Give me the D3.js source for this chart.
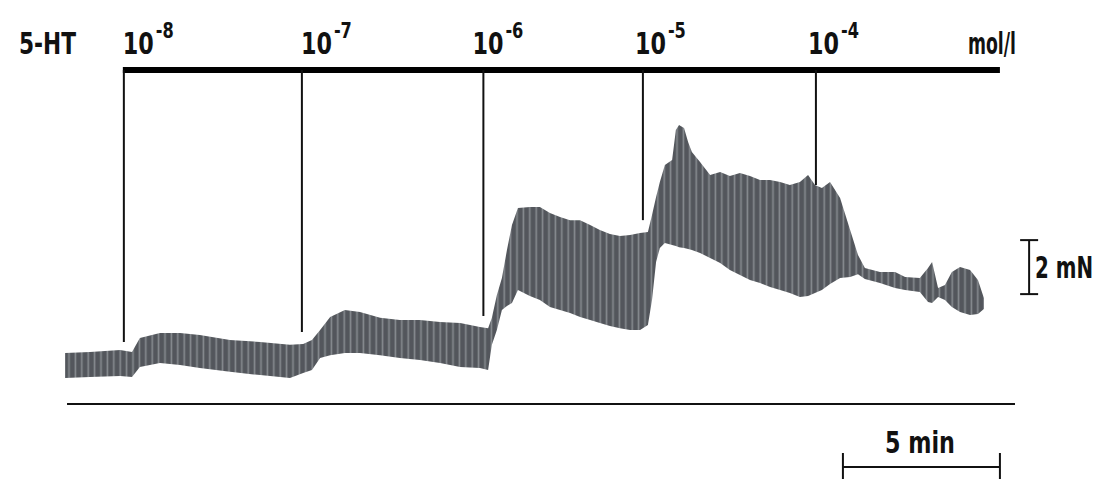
<!DOCTYPE html>
<html><head><meta charset="utf-8">
<script src="https://cdn.jsdelivr.net/npm/d3@7"></script>
<style>
html,body{margin:0;padding:0;background:#fff;}
svg{display:block;}
text{font-family:"DejaVu Sans Condensed","DejaVu Sans",sans-serif;font-weight:bold;fill:#111;}
</style></head>
<body>
<svg id="c" width="1103" height="479"></svg>
<script>
// ---- data (time in min, force in mN) ----
const traceTime = [0.10,0.89,1.85,2.23,2.48,3.12,3.76,4.39,5.35,6.31,7.26,7.68,7.96,8.22,8.54,9.01,9.49,10.13,10.76,11.40,12.04,12.68,13.31,13.57,13.69,13.85,14.01,14.17,14.33,14.52,14.90,15.22,15.54,15.86,16.18,16.50,16.82,17.13,17.45,17.77,18.09,18.41,18.66,18.79,18.92,19.04,19.20,19.43,19.55,19.65,19.81,19.94,20.06,20.32,20.64,20.96,21.27,21.59,21.91,22.23,22.55,22.87,23.18,23.50,23.76,23.98,24.20,24.46,24.78,25.10,25.35,25.57,26.05,26.53,26.85,27.32,27.58,27.71,27.90,28.12,28.34,28.60,28.92,29.17,29.36];
const tracePeak = [1.89,1.93,2.00,1.93,2.44,2.63,2.63,2.56,2.37,2.30,2.19,2.22,2.37,2.74,3.22,3.48,3.41,3.19,3.11,3.11,3.04,3.00,2.85,2.81,3.19,4.04,4.67,5.70,6.63,7.26,7.30,7.30,7.07,6.93,6.81,6.81,6.63,6.44,6.30,6.22,6.26,6.33,6.37,7.00,7.67,8.22,8.85,9.04,10.15,10.33,10.22,9.70,9.33,8.96,8.48,8.59,8.44,8.56,8.44,8.30,8.30,8.22,8.11,8.22,8.48,8.11,8.00,8.22,7.63,6.44,5.52,5.04,4.89,4.89,4.70,4.67,5.04,5.26,4.30,4.41,4.89,5.07,4.96,4.59,3.93];
const traceTrough = [0.96,1.00,1.04,1.00,1.37,1.52,1.44,1.33,1.19,1.07,0.96,1.15,1.26,1.70,1.81,1.89,1.89,1.81,1.70,1.63,1.52,1.37,1.33,1.26,2.19,2.74,3.48,3.63,3.74,4.22,4.00,3.85,3.59,3.48,3.37,3.22,3.11,3.00,2.89,2.81,2.74,2.74,2.93,3.85,5.26,5.78,5.96,5.89,5.85,5.81,5.78,5.74,5.70,5.59,5.41,5.22,4.96,4.78,4.59,4.48,4.33,4.22,4.11,3.96,4.00,4.11,4.22,4.44,4.67,4.70,4.81,4.63,4.48,4.30,4.22,4.15,3.78,3.74,3.96,3.85,3.59,3.41,3.30,3.33,3.52];

// 5-HT additions
const doseExponent = ["-8","-7","-6","-5","-4"];
const doseTime = [1.97,7.64,13.42,18.50,24.01];
const doseMarkEnd = [2.30,2.67,3.26,6.81,8.11]; // level (mN) where the marker line stops
const unitLabel = "mol/l";
const drugLabel = "5-HT";

// calibration bars
const timeBar = {start:24.87, minutes:5, label:"5 min"};
const forceBar = {at:30.8, from:4.07, mN:2, label:"2 mN"};

// ---- layout ----
const svg = d3.select("#c");
const x = d3.scaleLinear().domain([0,30]).range([62,1004]);
const y = d3.scaleLinear().domain([0,10]).range([404,134]);
const topBarY = 70;

// stripe pattern for the contraction trace
const defs = svg.append("defs");
const pat = defs.append("pattern").attr("id","osc").attr("patternUnits","userSpaceOnUse")
  .attr("width",6.4).attr("height",10);
pat.append("rect").attr("width",6.4).attr("height",10).attr("fill","#53575c");
pat.append("rect").attr("x",4.2).attr("width",1.6).attr("height",10).attr("fill","#878b90");
defs.append("filter").attr("id","soft").append("feGaussianBlur").attr("stdDeviation",0.6);

const pts = traceTime.map((t,i)=>({t, hi:tracePeak[i], lo:traceTrough[i]}));
const area = d3.area().x(d=>x(d.t)).y0(d=>y(d.lo)).y1(d=>y(d.hi)).curve(d3.curveLinear);
svg.append("path").datum(pts).attr("d",area).attr("fill","url(#osc)").attr("filter","url(#soft)");

// baseline
svg.append("line").attr("x1",x(0.16)).attr("x2",x(30.35)).attr("y1",y(0)).attr("y2",y(0))
  .attr("stroke","#111").attr("stroke-width",2);

// top application bar
svg.append("line").attr("x1",x(doseTime[0])-1).attr("x2",x(29.87)).attr("y1",topBarY).attr("y2",topBarY)
  .attr("stroke","#000").attr("stroke-width",6);

// marker lines
svg.selectAll("line.mark").data(doseTime).join("line").attr("class","mark")
  .attr("x1",d=>x(d)).attr("x2",d=>x(d)).attr("y1",topBarY).attr("y2",(d,i)=>y(doseMarkEnd[i]))
  .attr("stroke","#111").attr("stroke-width",2);

// labels: condensed by horizontal scaling to the reference widths
function label(txt, x0, base, size, width){
  const t = svg.append("text").style("font-size",size+"px").text(txt);
  const w = t.node().getComputedTextLength();
  t.attr("transform",`translate(${x0},${base}) scale(${width/w},1)`);
  return t;
}
const labelShift = [0,0,-10,-7,-7];
doseExponent.forEach((e,i)=>{
  const lx = x(doseTime[i])+labelShift[i]-1;
  label("10", lx, 54, 31, 31);
  label(e, lx+33, 38, 21, 18);
});
label(drugLabel, 19, 54, 31, 57);
label(unitLabel, 968, 54, 31, 48);

// force calibration
const fx = x(forceBar.at);
svg.append("line").attr("x1",fx).attr("x2",fx).attr("y1",y(forceBar.from)).attr("y2",y(forceBar.from+forceBar.mN)).attr("stroke","#111").attr("stroke-width",2);
[forceBar.from, forceBar.from+forceBar.mN].forEach(v=>{
  svg.append("line").attr("x1",fx-9).attr("x2",fx+9).attr("y1",y(v)).attr("y2",y(v)).attr("stroke","#111").attr("stroke-width",2);
});
label(forceBar.label, fx+6, 278, 30, 58);

// time calibration
const tx0 = x(timeBar.start), tx1 = x(timeBar.start+timeBar.minutes);
svg.append("line").attr("x1",tx0).attr("x2",tx1).attr("y1",467).attr("y2",467).attr("stroke","#111").attr("stroke-width",2);
[tx0,tx1].forEach(v=>{
  svg.append("line").attr("x1",v).attr("x2",v).attr("y1",453).attr("y2",479).attr("stroke","#111").attr("stroke-width",2);
});
label(timeBar.label, 885, 453, 31, 70);
</script>
</body></html>
